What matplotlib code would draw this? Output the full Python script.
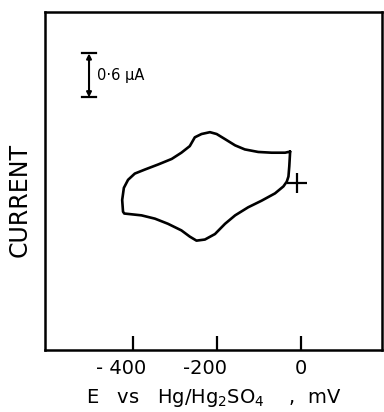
import matplotlib
matplotlib.use("Agg")
import matplotlib.pyplot as plt
import matplotlib.transforms as mtransforms

# cyclic voltammogram (E in mV, I in uA)
# upper branch, right to left
upper_e = [-26, -38, -70, -102, -134, -157, -181, -201, -217, -237, -253, -265, -285, -308, -340, -372, -396, -412, -422, -426, -424, -421]
upper_i = [0.43, 0.415, 0.415, 0.425, 0.46, 0.515, 0.60, 0.67, 0.695, 0.67, 0.625, 0.505, 0.415, 0.33, 0.255, 0.185, 0.13, 0.045, -0.065, -0.23, -0.39, -0.415]
# lower branch, left to right
lower_e = [-380, -348, -317, -285, -265, -249, -229, -205, -181, -157, -126, -94, -62, -42, -34, -30, -28, -26]
lower_i = [-0.44, -0.485, -0.555, -0.645, -0.73, -0.785, -0.77, -0.695, -0.555, -0.44, -0.33, -0.24, -0.14, -0.045, 0.02, 0.09, 0.23, 0.43]

start_e = [-10]
start_i = [0]

x_ticks = [-400, -200, 0]
x_tick_labels = ["- 400", "-200", "0"]

scale_e = -505
scale_lo, scale_hi = 1.17, 1.77
scale_label = "0·6 μA"

fig = plt.figure(figsize=(3.84, 4.12), dpi=100)
ax = fig.add_axes([0.117, 0.15, 0.878, 0.82])

ax.plot(upper_e + lower_e, upper_i + lower_i, color="black", lw=1.9,
        solid_joinstyle="round", solid_capstyle="round")
ax.plot(start_e, start_i, marker="+", color="black", markersize=15, mew=1.6, ls="none")

# 0.6 uA scale bar
ax.annotate("", xy=(scale_e, scale_hi), xytext=(scale_e, scale_lo),
            arrowprops=dict(arrowstyle="<|-|>", color="black", lw=1.5, shrinkA=0, shrinkB=0,
                            mutation_scale=7))
ax.plot([scale_e - 16, scale_e + 16], [scale_hi, scale_hi], color="black", lw=1.6)
ax.plot([scale_e - 16, scale_e + 16], [scale_lo, scale_lo], color="black", lw=1.6)
ax.text(scale_e + 19, (scale_lo + scale_hi) / 2, scale_label, fontsize=10.5,
        va="center", ha="left")

ax.set_xlim(-610, 193)
ax.set_ylim(-2.28, 2.33)
ax.set_xticks(x_ticks)
ax.set_xticklabels(x_tick_labels, fontsize=14)
ax.tick_params(axis="x", direction="in", length=10, width=1.6, pad=6)
ax.set_yticks([])
for s in ax.spines.values():
    s.set_linewidth(1.8)

# the minus sign hangs to the left of the centred digits
shift = mtransforms.ScaledTranslation(-0.12, 0, fig.dpi_scale_trans)
for lab in ax.get_xticklabels():
    if lab.get_text().startswith("-"):
        lab.set_transform(lab.get_transform() + shift)

ax.set_xlabel("E   vs   Hg/Hg$_2$SO$_4$    ,  mV", fontsize=14, labelpad=7)
ax.set_ylabel("CURRENT", fontsize=17)
ax.yaxis.set_label_coords(-0.039, 0.444)

fig.savefig("out.png", dpi=100)
